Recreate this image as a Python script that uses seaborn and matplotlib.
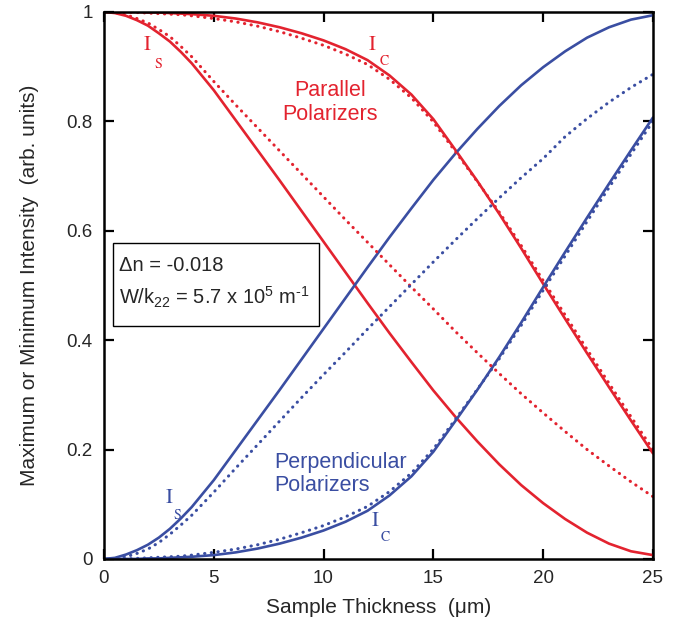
import numpy as np
import pandas as pd
import matplotlib
matplotlib.use("Agg")
import matplotlib.pyplot as plt
from matplotlib.patches import Rectangle
import seaborn as sns

# Sample thickness (um)
thickness = [0, 0.5, 1, 1.5, 2, 2.5, 3, 3.5, 4, 5, 6, 7, 8, 9, 10, 11, 12, 13, 14, 15,
             16, 17, 18, 19, 20, 21, 22, 23, 24, 25]

# Parallel polarizers (red)
par_is_solid = [1.000, 0.998, 0.993, 0.985, 0.975, 0.961, 0.946, 0.927, 0.906, 0.857,
                0.802, 0.747, 0.692, 0.636, 0.580, 0.524, 0.468, 0.413, 0.360, 0.308,
                0.260, 0.215, 0.173, 0.135, 0.102, 0.073, 0.048, 0.028, 0.014, 0.007]
par_is_dotted = [1.000, 0.999, 0.995, 0.988, 0.980, 0.968, 0.955, 0.937, 0.918, 0.873,
                 0.830, 0.788, 0.746, 0.704, 0.662, 0.620, 0.579, 0.538, 0.497, 0.457,
                 0.416, 0.377, 0.339, 0.302, 0.267, 0.233, 0.200, 0.170, 0.141, 0.114]
par_ic_solid = [1.000, 1.000, 1.000, 1.000, 0.999, 0.999, 0.998, 0.997, 0.996, 0.993,
                0.988, 0.981, 0.972, 0.961, 0.948, 0.932, 0.912, 0.884, 0.849, 0.804,
                0.748, 0.691, 0.631, 0.568, 0.503, 0.439, 0.376, 0.314, 0.253, 0.193]
par_ic_dotted = [1.000, 1.000, 1.000, 0.999, 0.998, 0.997, 0.996, 0.995, 0.993, 0.988,
                 0.982, 0.974, 0.964, 0.952, 0.939, 0.923, 0.904, 0.877, 0.843, 0.799,
                 0.745, 0.690, 0.634, 0.573, 0.509, 0.446, 0.383, 0.321, 0.260, 0.200]

# Perpendicular polarizers (blue)
perp_is_solid = [0.000, 0.002, 0.008, 0.016, 0.026, 0.039, 0.055, 0.074, 0.095, 0.144,
                 0.199, 0.254, 0.309, 0.365, 0.421, 0.477, 0.533, 0.588, 0.641, 0.693,
                 0.741, 0.786, 0.828, 0.866, 0.899, 0.928, 0.953, 0.972, 0.986, 0.994]
perp_is_dotted = [0.000, 0.001, 0.004, 0.010, 0.018, 0.030, 0.045, 0.062, 0.080, 0.122,
                  0.166, 0.209, 0.252, 0.295, 0.337, 0.378, 0.420, 0.461, 0.502, 0.543,
                  0.583, 0.622, 0.660, 0.697, 0.732, 0.772, 0.805, 0.835, 0.862, 0.886]
perp_ic_solid = [0.000, 0.000, 0.000, 0.000, 0.001, 0.001, 0.002, 0.003, 0.004, 0.007,
                 0.012, 0.019, 0.028, 0.039, 0.052, 0.068, 0.088, 0.116, 0.151, 0.196,
                 0.252, 0.309, 0.369, 0.432, 0.497, 0.561, 0.624, 0.686, 0.747, 0.807]
perp_ic_dotted = [0.000, 0.000, 0.000, 0.001, 0.002, 0.003, 0.004, 0.005, 0.007, 0.012,
                  0.018, 0.026, 0.036, 0.048, 0.061, 0.077, 0.096, 0.123, 0.157, 0.201,
                  0.255, 0.310, 0.366, 0.427, 0.491, 0.554, 0.617, 0.679, 0.740, 0.800]

RED = "#e3232f"
BLUE = "#3a4ea2"

sns.set_style("ticks")
plt.rcParams["font.family"] = ["Liberation Sans", "DejaVu Sans"]
plt.rcParams["mathtext.fontset"] = "custom"
plt.rcParams["mathtext.rm"] = "Liberation Sans"
plt.rcParams["mathtext.it"] = "Liberation Sans"

fig = plt.figure(figsize=(6.84, 6.33), dpi=100)
ax = fig.add_axes([0.152, 0.117, 0.8026, 0.8641])

series = [
    (par_is_solid, RED, "-"),
    (par_ic_solid, RED, "-"),
    (perp_is_solid, BLUE, "-"),
    (perp_ic_solid, BLUE, "-"),
    (par_is_dotted, RED, ":"),
    (par_ic_dotted, RED, ":"),
    (perp_is_dotted, BLUE, ":"),
    (perp_ic_dotted, BLUE, ":"),
]
for vals, color, ls in series:
    df = pd.DataFrame({"d": thickness, "I": vals})
    if ls == "-":
        line_kw = dict(lw=1.9)
    else:
        line_kw = dict(lw=2.2, dashes=(0.1, 2.1), dash_capstyle="round")
    sns.lineplot(data=df, x="d", y="I", color=color, ax=ax, **line_kw)

ax.set_xlim(0, 25)
ax.set_ylim(0, 1)
ax.set_xticks([0, 5, 10, 15, 20, 25])
ax.set_yticks([0, 0.2, 0.4, 0.6, 0.8, 1.0])
ax.set_yticklabels(["0", "0.2", "0.4", "0.6", "0.8", "1"])
ax.tick_params(direction="in", length=7, width=1.6, top=True, right=True,
               labelsize=13.5, pad=8, color="black")
for sp in ax.spines.values():
    sp.set_linewidth(1.8)
    sp.set_color("black")

ax.set_xlabel("Sample Thickness  (\u03bcm)", fontsize=15, labelpad=8)
ax.set_ylabel("Maximum or Minimum Intensity  (arb. units)", fontsize=15, labelpad=20)

# curve labels
serif = dict(family="STIXGeneral")
ax.text(1.95, 0.94, "I", color=RED, fontsize=15, ha="center", va="center", **serif)
ax.text(2.45, 0.905, "S", color=RED, fontsize=10, ha="center", va="center", **serif)
ax.text(12.2, 0.94, "I", color=RED, fontsize=15, ha="center", va="center", **serif)
ax.text(12.75, 0.91, "C", color=RED, fontsize=10, ha="center", va="center", **serif)
ax.text(2.95, 0.112, "I", color=BLUE, fontsize=15, ha="center", va="center", **serif)
ax.text(3.35, 0.08, "S", color=BLUE, fontsize=10, ha="center", va="center", **serif)
ax.text(12.35, 0.07, "I", color=BLUE, fontsize=15, ha="center", va="center", **serif)
ax.text(12.8, 0.04, "C", color=BLUE, fontsize=10, ha="center", va="center", **serif)

ax.text(10.3, 0.835, "Parallel\nPolarizers", color=RED, fontsize=15.5,
        ha="center", va="center", linespacing=1.2)
ax.text(7.75, 0.155, "Perpendicular\nPolarizers", color=BLUE, fontsize=15.5,
        ha="left", va="center", linespacing=1.15)

# parameter box
ax.add_patch(Rectangle((0.39, 0.425), 9.4, 0.153, fill=True, facecolor="white",
                       edgecolor="black", lw=1.0, zorder=5))
ax.text(0.7, 0.537, "\u0394n = -0.018", fontsize=14.5, ha="left", va="center", zorder=6)
ax.text(0.7, 0.478, r"W/k$_{22}$ = 5.7 x 10$^{5}$ m$^{\text{-}1}$", fontsize=14.5,
        ha="left", va="center", zorder=6)

fig.savefig("out.png", dpi=100, facecolor="white")
